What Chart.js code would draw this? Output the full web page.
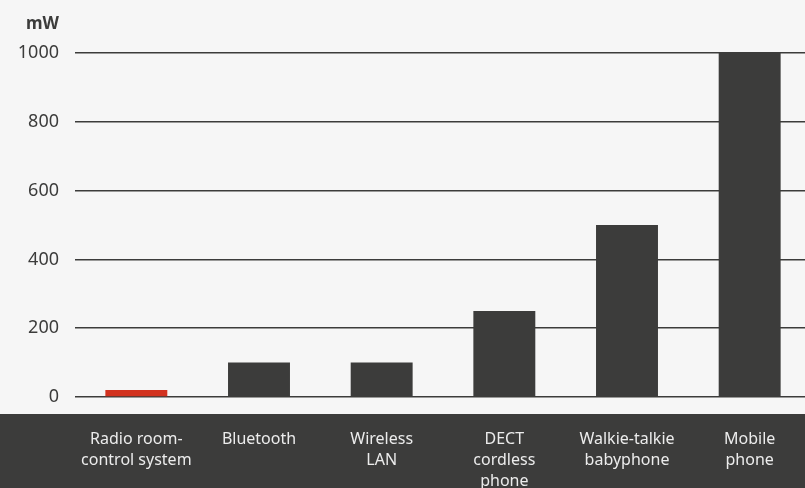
<!DOCTYPE html>
<html>
<head>
<meta charset="utf-8">
<script src="https://cdn.jsdelivr.net/npm/chart.js@4/dist/chart.umd.min.js"></script>
<style>
  html, body { margin: 0; padding: 0; background: #f6f6f6; overflow: hidden; }
  #wrap { width: 811px; height: 488px; position: relative; }
</style>
</head>
<body>
<div id="wrap"><canvas id="chart"></canvas></div>
<script>
// devices and their transmit power
const categories = [
    ["Radio room-", "control system"],
    ["Bluetooth"],
    ["Wireless", "LAN"],
    ["DECT", "cordless", "phone"],
    ["Walkie-talkie", "babyphone"],
    ["Mobile", "phone"]
];
const powerValues = [20, 100, 100, 250, 500, 1000];
const yTicks = [0, 200, 400, 600, 800, 1000];
const unitLabel = "mW";

const DARK = '#3c3c3b';
const RED = '#d2321f';
const FONT = "'Noto Sans', sans-serif";

// dark band behind the category labels + unit on top
const bandPlugin = {
    id: 'band',
    beforeDraw(chart) {
        const ctx = chart.ctx;
        const top = chart.chartArea.bottom + 17;
        ctx.save();
        ctx.fillStyle = DARK;
        ctx.fillRect(0, top, chart.width, chart.height - top);
        ctx.restore();
    },
    afterDraw(chart) {
        const ctx = chart.ctx;
        const y = chart.scales.y;
        ctx.save();
        ctx.fillStyle = DARK;
        ctx.font = "bold 17px " + FONT;
        ctx.textAlign = 'right';
        ctx.textBaseline = 'middle';
        ctx.fillText(unitLabel, y.right - 16, 24);
        ctx.restore();
    }
};

const ctx = document.getElementById('chart').getContext('2d');
new Chart(ctx, {
    type: 'bar',
    data: {
        labels: categories,
        datasets: [{
            data: powerValues,
            backgroundColor: powerValues.map((v, i) => i === 0 ? RED : DARK),
            borderWidth: 0,
            barPercentage: 0.505,
            categoryPercentage: 1
        }]
    },
    options: {
        responsive: true,
        maintainAspectRatio: false,
        animation: false,
        layout: { padding: { top: 53, left: 0, right: 0, bottom: 0 } },
        plugins: {
            legend: { display: false },
            tooltip: { enabled: false }
        },
        scales: {
            x: {
                afterFit: s => { s.height = 91; },
                grid: { display: false },
                border: { display: false },
                ticks: {
                    color: '#ececec',
                    font: { family: FONT, size: 16, lineHeight: '21px' },
                    padding: 24,
                    maxRotation: 0,
                    autoSkip: false
                }
            },
            y: {
                min: 0,
                max: 1000,
                afterBuildTicks: s => { s.ticks = yTicks.map(v => ({ value: v })); },
                afterFit: s => { s.width = 75; },
                grid: { color: DARK, lineWidth: 1.5, drawTicks: false },
                border: { display: false },
                ticks: {
                    color: DARK,
                    font: { family: FONT, size: 18 },
                    padding: 16,
                    callback: v => String(v)
                }
            }
        }
    },
    plugins: [bandPlugin]
});
</script>
</body>
</html>
